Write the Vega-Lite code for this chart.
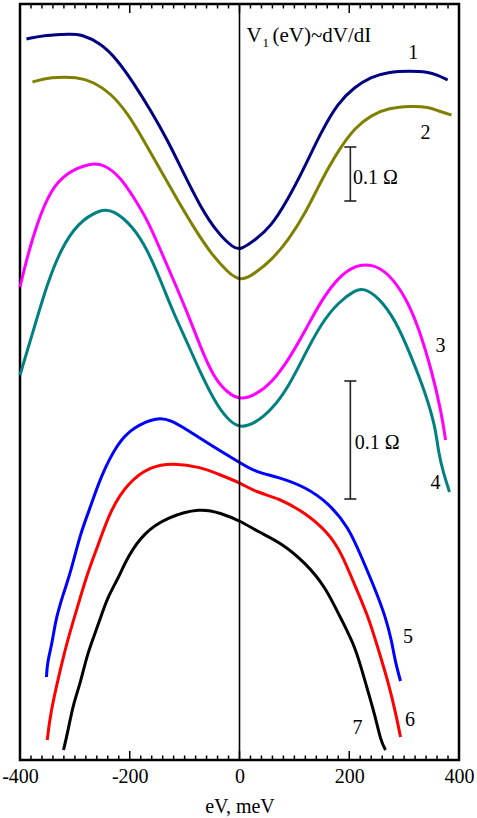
{
  "$schema": "https://vega.github.io/schema/vega-lite/v6.json",
  "width": 439,
  "height": 756,
  "autosize": "none",
  "padding": {"left": 20, "top": 4, "right": 18, "bottom": 58},
  "background": "white",
  "config": {
    "font": "Liberation Serif",
    "view": {"stroke": "black", "strokeWidth": 2.5},
    "axis": {"grid": false, "domain": false, "labelFont": "Liberation Serif", "titleFont": "Liberation Serif", "tickColor": "black", "labelColor": "black", "titleColor": "black"},
    "text": {"font": "Liberation Serif", "color": "black"}
  },
  "datasets": {
    "curves": [
      {"curve": "1", "eV": -388.2, "dVdI": 721}, {"curve": "1", "eV": -353.5, "dVdI": 725}, {"curve": "1", "eV": -308.0, "dVdI": 726}, {"curve": "1", "eV": -289.8, "dVdI": 726}, {"curve": "1", "eV": -253.3, "dVdI": 717}, {"curve": "1", "eV": -222.3, "dVdI": 700}, {"curve": "1", "eV": -193.2, "dVdI": 677}, {"curve": "1", "eV": -162.2, "dVdI": 650}, {"curve": "1", "eV": -131.2, "dVdI": 620}, {"curve": "1", "eV": -102.0, "dVdI": 587}, {"curve": "1", "eV": -71.1, "dVdI": 553}, {"curve": "1", "eV": -40.1, "dVdI": 527}, {"curve": "1", "eV": -11.0, "dVdI": 512}, {"curve": "1", "eV": 1.8, "dVdI": 510}, {"curve": "1", "eV": 28.6, "dVdI": 520}, {"curve": "1", "eV": 56.7, "dVdI": 533}, {"curve": "1", "eV": 87.7, "dVdI": 560}, {"curve": "1", "eV": 118.7, "dVdI": 593}, {"curve": "1", "eV": 147.9, "dVdI": 627}, {"curve": "1", "eV": 178.9, "dVdI": 657}, {"curve": "1", "eV": 209.8, "dVdI": 673}, {"curve": "1", "eV": 239.0, "dVdI": 683}, {"curve": "1", "eV": 270.0, "dVdI": 688}, {"curve": "1", "eV": 311.9, "dVdI": 689}, {"curve": "1", "eV": 342.9, "dVdI": 688}, {"curve": "1", "eV": 361.1, "dVdI": 685}, {"curve": "1", "eV": 379.3, "dVdI": 680},
      {"curve": "2", "eV": -377.2, "dVdI": 678}, {"curve": "2", "eV": -344.4, "dVdI": 683}, {"curve": "2", "eV": -295.2, "dVdI": 683}, {"curve": "2", "eV": -266.1, "dVdI": 678}, {"curve": "2", "eV": -235.1, "dVdI": 667}, {"curve": "2", "eV": -204.1, "dVdI": 647}, {"curve": "2", "eV": -174.9, "dVdI": 620}, {"curve": "2", "eV": -144.0, "dVdI": 590}, {"curve": "2", "eV": -113.0, "dVdI": 560}, {"curve": "2", "eV": -83.8, "dVdI": 533}, {"curve": "2", "eV": -52.8, "dVdI": 507}, {"curve": "2", "eV": -21.9, "dVdI": 488}, {"curve": "2", "eV": 1.8, "dVdI": 478}, {"curve": "2", "eV": 29.2, "dVdI": 487}, {"curve": "2", "eV": 58.3, "dVdI": 500}, {"curve": "2", "eV": 89.3, "dVdI": 520}, {"curve": "2", "eV": 120.3, "dVdI": 547}, {"curve": "2", "eV": 149.5, "dVdI": 580}, {"curve": "2", "eV": 180.5, "dVdI": 610}, {"curve": "2", "eV": 211.4, "dVdI": 633}, {"curve": "2", "eV": 240.6, "dVdI": 645}, {"curve": "2", "eV": 271.6, "dVdI": 652}, {"curve": "2", "eV": 313.4, "dVdI": 654}, {"curve": "2", "eV": 344.4, "dVdI": 653}, {"curve": "2", "eV": 362.6, "dVdI": 649}, {"curve": "2", "eV": 386.3, "dVdI": 645},
      {"curve": "3", "eV": -400, "dVdI": 473}, {"curve": "3", "eV": -386.9, "dVdI": 503}, {"curve": "3", "eV": -368.7, "dVdI": 537}, {"curve": "3", "eV": -344.4, "dVdI": 570}, {"curve": "3", "eV": -314.0, "dVdI": 588}, {"curve": "3", "eV": -271.5, "dVdI": 597}, {"curve": "3", "eV": -247.8, "dVdI": 596}, {"curve": "3", "eV": -216.9, "dVdI": 583}, {"curve": "3", "eV": -193.2, "dVdI": 563}, {"curve": "3", "eV": -167.7, "dVdI": 540}, {"curve": "3", "eV": -144.0, "dVdI": 510}, {"curve": "3", "eV": -120.3, "dVdI": 480}, {"curve": "3", "eV": -94.8, "dVdI": 447}, {"curve": "3", "eV": -71.1, "dVdI": 413}, {"curve": "3", "eV": -47.4, "dVdI": 383}, {"curve": "3", "eV": -21.9, "dVdI": 367}, {"curve": "3", "eV": 1.8, "dVdI": 360}, {"curve": "3", "eV": 28.6, "dVdI": 365}, {"curve": "3", "eV": 58.3, "dVdI": 377}, {"curve": "3", "eV": 89.3, "dVdI": 400}, {"curve": "3", "eV": 120.3, "dVdI": 430}, {"curve": "3", "eV": 149.5, "dVdI": 460}, {"curve": "3", "eV": 180.5, "dVdI": 483}, {"curve": "3", "eV": 211.4, "dVdI": 495}, {"curve": "3", "eV": 240.6, "dVdI": 496}, {"curve": "3", "eV": 271.6, "dVdI": 487}, {"curve": "3", "eV": 302.6, "dVdI": 463}, {"curve": "3", "eV": 326.3, "dVdI": 433}, {"curve": "3", "eV": 350.0, "dVdI": 390}, {"curve": "3", "eV": 368.2, "dVdI": 347}, {"curve": "3", "eV": 375.5, "dVdI": 320},
      {"curve": "4", "eV": -400, "dVdI": 385}, {"curve": "4", "eV": -375.4, "dVdI": 430}, {"curve": "4", "eV": -349.9, "dVdI": 477}, {"curve": "4", "eV": -326.2, "dVdI": 510}, {"curve": "4", "eV": -295.2, "dVdI": 537}, {"curve": "4", "eV": -253.3, "dVdI": 551}, {"curve": "4", "eV": -229.6, "dVdI": 550}, {"curve": "4", "eV": -193.2, "dVdI": 533}, {"curve": "4", "eV": -167.7, "dVdI": 510}, {"curve": "4", "eV": -144.0, "dVdI": 480}, {"curve": "4", "eV": -120.3, "dVdI": 447}, {"curve": "4", "eV": -94.8, "dVdI": 417}, {"curve": "4", "eV": -71.1, "dVdI": 387}, {"curve": "4", "eV": -40.1, "dVdI": 353}, {"curve": "4", "eV": -16.4, "dVdI": 338}, {"curve": "4", "eV": 1.8, "dVdI": 332}, {"curve": "4", "eV": 29.2, "dVdI": 337}, {"curve": "4", "eV": 58.3, "dVdI": 350}, {"curve": "4", "eV": 89.3, "dVdI": 373}, {"curve": "4", "eV": 120.3, "dVdI": 407}, {"curve": "4", "eV": 149.5, "dVdI": 437}, {"curve": "4", "eV": 180.5, "dVdI": 458}, {"curve": "4", "eV": 211.4, "dVdI": 470}, {"curve": "4", "eV": 226.0, "dVdI": 472}, {"curve": "4", "eV": 253.3, "dVdI": 463}, {"curve": "4", "eV": 284.3, "dVdI": 440}, {"curve": "4", "eV": 313.4, "dVdI": 403}, {"curve": "4", "eV": 338.9, "dVdI": 367}, {"curve": "4", "eV": 357.1, "dVdI": 333}, {"curve": "4", "eV": 362.6, "dVdI": 307}, {"curve": "4", "eV": 371.7, "dVdI": 287}, {"curve": "4", "eV": 382.7, "dVdI": 268},
      {"curve": "5", "eV": -351.7, "dVdI": 83}, {"curve": "5", "eV": -350.4, "dVdI": 97}, {"curve": "5", "eV": -341.3, "dVdI": 117}, {"curve": "5", "eV": -335.3, "dVdI": 140}, {"curve": "5", "eV": -320.7, "dVdI": 167}, {"curve": "5", "eV": -308.0, "dVdI": 187}, {"curve": "5", "eV": -289.8, "dVdI": 227}, {"curve": "5", "eV": -271.5, "dVdI": 253}, {"curve": "5", "eV": -253.3, "dVdI": 283}, {"curve": "5", "eV": -222.3, "dVdI": 317}, {"curve": "5", "eV": -193.2, "dVdI": 333}, {"curve": "5", "eV": -149.4, "dVdI": 343}, {"curve": "5", "eV": -125.8, "dVdI": 340}, {"curve": "5", "eV": -94.8, "dVdI": 330}, {"curve": "5", "eV": -58.3, "dVdI": 317}, {"curve": "5", "eV": 1.8, "dVdI": 297}, {"curve": "5", "eV": 29.2, "dVdI": 288}, {"curve": "5", "eV": 71.1, "dVdI": 283}, {"curve": "5", "eV": 120.3, "dVdI": 273}, {"curve": "5", "eV": 162.2, "dVdI": 257}, {"curve": "5", "eV": 198.6, "dVdI": 233}, {"curve": "5", "eV": 222.3, "dVdI": 203}, {"curve": "5", "eV": 247.8, "dVdI": 170}, {"curve": "5", "eV": 266.1, "dVdI": 143}, {"curve": "5", "eV": 277.0, "dVdI": 120}, {"curve": "5", "eV": 284.3, "dVdI": 97}, {"curve": "5", "eV": 293.4, "dVdI": 79},
      {"curve": "6", "eV": -350.4, "dVdI": 20}, {"curve": "6", "eV": -344.4, "dVdI": 47}, {"curve": "6", "eV": -329.8, "dVdI": 83}, {"curve": "6", "eV": -313.4, "dVdI": 120}, {"curve": "6", "eV": -295.2, "dVdI": 153}, {"curve": "6", "eV": -277.0, "dVdI": 187}, {"curve": "6", "eV": -258.8, "dVdI": 213}, {"curve": "6", "eV": -235.1, "dVdI": 250}, {"curve": "6", "eV": -204.1, "dVdI": 277}, {"curve": "6", "eV": -162.2, "dVdI": 294}, {"curve": "6", "eV": -120.3, "dVdI": 297}, {"curve": "6", "eV": -71.1, "dVdI": 293}, {"curve": "6", "eV": -34.6, "dVdI": 285}, {"curve": "6", "eV": 1.8, "dVdI": 277}, {"curve": "6", "eV": 29.2, "dVdI": 268}, {"curve": "6", "eV": 71.1, "dVdI": 262}, {"curve": "6", "eV": 120.3, "dVdI": 247}, {"curve": "6", "eV": 162.2, "dVdI": 227}, {"curve": "6", "eV": 185.9, "dVdI": 207}, {"curve": "6", "eV": 211.4, "dVdI": 173}, {"curve": "6", "eV": 235.1, "dVdI": 143}, {"curve": "6", "eV": 253.3, "dVdI": 110}, {"curve": "6", "eV": 271.6, "dVdI": 77}, {"curve": "6", "eV": 286.2, "dVdI": 43}, {"curve": "6", "eV": 293.4, "dVdI": 23},
      {"curve": "7", "eV": -320.7, "dVdI": 10}, {"curve": "7", "eV": -313.4, "dVdI": 27}, {"curve": "7", "eV": -302.5, "dVdI": 57}, {"curve": "7", "eV": -289.8, "dVdI": 77}, {"curve": "7", "eV": -277.0, "dVdI": 107}, {"curve": "7", "eV": -258.8, "dVdI": 133}, {"curve": "7", "eV": -240.6, "dVdI": 163}, {"curve": "7", "eV": -222.3, "dVdI": 180}, {"curve": "7", "eV": -204.1, "dVdI": 203}, {"curve": "7", "eV": -174.9, "dVdI": 227}, {"curve": "7", "eV": -131.2, "dVdI": 243}, {"curve": "7", "eV": -71.1, "dVdI": 252}, {"curve": "7", "eV": -34.6, "dVdI": 247}, {"curve": "7", "eV": 1.8, "dVdI": 239}, {"curve": "7", "eV": 34.6, "dVdI": 228}, {"curve": "7", "eV": 76.5, "dVdI": 217}, {"curve": "7", "eV": 120.3, "dVdI": 197}, {"curve": "7", "eV": 156.8, "dVdI": 173}, {"curve": "7", "eV": 185.9, "dVdI": 140}, {"curve": "7", "eV": 211.4, "dVdI": 113}, {"curve": "7", "eV": 229.6, "dVdI": 77}, {"curve": "7", "eV": 247.8, "dVdI": 43}, {"curve": "7", "eV": 256.9, "dVdI": 20}, {"curve": "7", "eV": 266.1, "dVdI": 10}
    ],
    "labels": [
      {"curve": "1", "eV": 316.6, "dVdI": 707},
      {"curve": "2", "eV": 339.0, "dVdI": 627},
      {"curve": "3", "eV": 366.3, "dVdI": 414},
      {"curve": "4", "eV": 357.1, "dVdI": 277},
      {"curve": "5", "eV": 307.0, "dVdI": 123},
      {"curve": "6", "eV": 310.6, "dVdI": 40},
      {"curve": "7", "eV": 215.1, "dVdI": 32}
    ],
    "bars": [
      {"eV": 202, "lo": 559, "hi": 613, "textEV": 207, "mid": 582, "label": "0.1 Ω"},
      {"eV": 202, "lo": 261, "hi": 379, "textEV": 210, "mid": 317, "label": "0.1 Ω"}
    ],
    "caps": [
      {"from": 191, "to": 213, "dVdI": 613},
      {"from": 191, "to": 213, "dVdI": 559},
      {"from": 191, "to": 213, "dVdI": 379},
      {"from": 191, "to": 213, "dVdI": 261}
    ],
    "ticks": [
      {"eV": -400, "kind": "major"}, {"eV": -380, "kind": "minor"}, {"eV": -360, "kind": "minor"}, {"eV": -340, "kind": "minor"}, {"eV": -320, "kind": "minor"}, {"eV": -300, "kind": "minor"}, {"eV": -280, "kind": "minor"}, {"eV": -260, "kind": "minor"}, {"eV": -240, "kind": "minor"}, {"eV": -220, "kind": "minor"},
      {"eV": -200, "kind": "major"}, {"eV": -180, "kind": "minor"}, {"eV": -160, "kind": "minor"}, {"eV": -140, "kind": "minor"}, {"eV": -120, "kind": "minor"}, {"eV": -100, "kind": "minor"}, {"eV": -80, "kind": "minor"}, {"eV": -60, "kind": "minor"}, {"eV": -40, "kind": "minor"}, {"eV": -20, "kind": "minor"},
      {"eV": 0, "kind": "major"}, {"eV": 20, "kind": "minor"}, {"eV": 40, "kind": "minor"}, {"eV": 60, "kind": "minor"}, {"eV": 80, "kind": "minor"}, {"eV": 100, "kind": "minor"}, {"eV": 120, "kind": "minor"}, {"eV": 140, "kind": "minor"}, {"eV": 160, "kind": "minor"}, {"eV": 180, "kind": "minor"},
      {"eV": 200, "kind": "major"}, {"eV": 220, "kind": "minor"}, {"eV": 240, "kind": "minor"}, {"eV": 260, "kind": "minor"}, {"eV": 280, "kind": "minor"}, {"eV": 300, "kind": "minor"}, {"eV": 320, "kind": "minor"}, {"eV": 340, "kind": "minor"}, {"eV": 360, "kind": "minor"}, {"eV": 380, "kind": "minor"},
      {"eV": 400, "kind": "major"}
    ],
    "zero": [{"eV": 0}],
    "title": [{"eV": 12.8, "dVdI": 718, "text": "V"}],
    "sub": [{"eV": 41.9, "dVdI": 713, "text": "1"}],
    "title2": [{"eV": 60, "dVdI": 718, "text": "(eV)~dV/dI"}]
  },
  "encoding": {
    "x": {"type": "quantitative", "scale": {"domain": [-400, 400], "nice": false, "zero": false}},
    "y": {"type": "quantitative", "scale": {"domain": [0, 756], "nice": false, "zero": false}, "axis": null}
  },
  "layer": [
    {
      "data": {"name": "curves"},
      "mark": {"type": "line", "strokeWidth": 3, "interpolate": "basis"},
      "encoding": {
        "x": {"field": "eV", "type": "quantitative",
              "axis": {"orient": "bottom", "title": "eV, meV", "titleFontSize": 20, "titleFontWeight": "normal", "titlePadding": 10, "values": [-400, -200, 0, 200, 400], "ticks": false, "labelFontSize": 20, "labelPadding": 6, "labelFlush": false, "labelOverlap": false, "labelExpr": "'' + datum.value"}},
        "y": {"field": "dVdI", "type": "quantitative"},
        "color": {"field": "curve", "type": "nominal", "legend": null,
                  "scale": {"domain": ["1", "2", "3", "4", "5", "6", "7"], "range": ["#000080", "#808000", "#ff00ff", "#008080", "#0000ff", "#ff0000", "#000000"]}}
      }
    },
    {
      "data": {"name": "ticks"},
      "mark": {"type": "tick", "orient": "vertical", "thickness": 1.5, "clip": true, "color": "black", "opacity": 1},
      "encoding": {
        "x": {"field": "eV", "type": "quantitative"},
        "y": {"datum": 0, "type": "quantitative"},
        "size": {"field": "kind", "type": "nominal", "legend": null, "scale": {"domain": ["major", "minor"], "range": [18, 9]}}
      }
    },
    {
      "data": {"name": "ticks"},
      "mark": {"type": "tick", "orient": "vertical", "thickness": 1.5, "clip": true, "color": "black", "opacity": 1},
      "encoding": {
        "x": {"field": "eV", "type": "quantitative"},
        "y": {"datum": 756, "type": "quantitative"},
        "size": {"field": "kind", "type": "nominal", "legend": null, "scale": {"domain": ["major", "minor"], "range": [18, 9]}}
      }
    },
    {
      "data": {"name": "labels"},
      "mark": {"type": "text", "fontSize": 20, "align": "center", "baseline": "middle", "font": "Liberation Serif"},
      "encoding": {
        "x": {"field": "eV", "type": "quantitative"},
        "y": {"field": "dVdI", "type": "quantitative"},
        "text": {"field": "curve"}
      }
    },
    {
      "data": {"name": "zero"},
      "mark": {"type": "rule", "strokeWidth": 1.6, "color": "black"},
      "encoding": {
        "x": {"field": "eV", "type": "quantitative"}
      }
    },
    {
      "data": {"name": "bars"},
      "mark": {"type": "rule", "strokeWidth": 1.6, "color": "#222222"},
      "encoding": {
        "x": {"field": "eV", "type": "quantitative"},
        "y": {"field": "lo", "type": "quantitative"},
        "y2": {"field": "hi"}
      }
    },
    {
      "data": {"name": "caps"},
      "mark": {"type": "rule", "strokeWidth": 1.6, "color": "#222222"},
      "encoding": {
        "x": {"field": "from", "type": "quantitative"},
        "x2": {"field": "to"},
        "y": {"field": "dVdI", "type": "quantitative"}
      }
    },
    {
      "data": {"name": "bars"},
      "mark": {"type": "text", "fontSize": 20, "align": "left", "baseline": "middle", "font": "Liberation Serif"},
      "encoding": {
        "x": {"field": "textEV", "type": "quantitative"},
        "y": {"field": "mid", "type": "quantitative"},
        "text": {"field": "label"}
      }
    },
    {
      "data": {"name": "title"},
      "mark": {"type": "text", "fontSize": 21, "align": "left", "baseline": "alphabetic", "font": "Liberation Serif"},
      "encoding": {
        "x": {"field": "eV", "type": "quantitative"},
        "y": {"field": "dVdI", "type": "quantitative"},
        "text": {"field": "text"}
      }
    },
    {
      "data": {"name": "sub"},
      "mark": {"type": "text", "fontSize": 13, "align": "left", "baseline": "alphabetic", "font": "Liberation Serif"},
      "encoding": {
        "x": {"field": "eV", "type": "quantitative"},
        "y": {"field": "dVdI", "type": "quantitative"},
        "text": {"field": "text"}
      }
    },
    {
      "data": {"name": "title2"},
      "mark": {"type": "text", "fontSize": 21, "align": "left", "baseline": "alphabetic", "font": "Liberation Serif"},
      "encoding": {
        "x": {"field": "eV", "type": "quantitative"},
        "y": {"field": "dVdI", "type": "quantitative"},
        "text": {"field": "text"}
      }
    }
  ]
}
